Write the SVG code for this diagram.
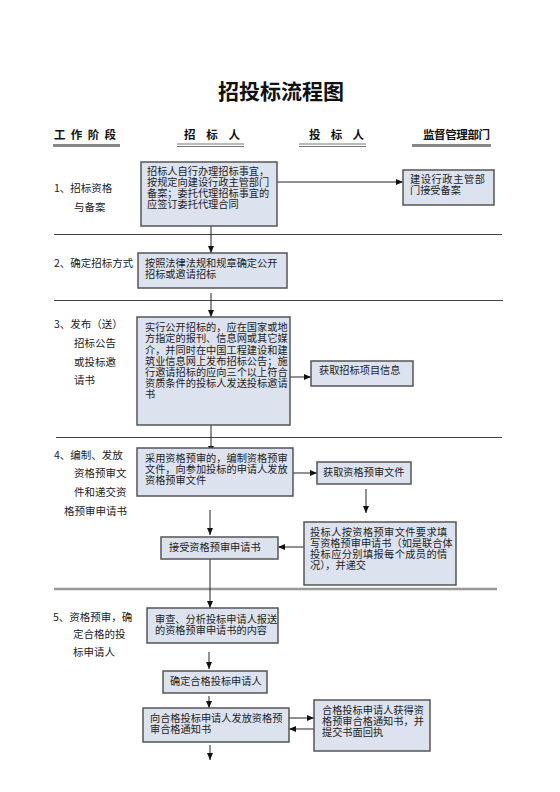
<svg xmlns="http://www.w3.org/2000/svg" width="560" height="792" viewBox="0 0 560 792">
<style>
  text { font-family: "Noto Sans CJK SC", "Noto Sans", sans-serif; fill: #222; }
  .title { font-size: 21px; font-weight: bold; fill: #111; }
  .hdr { font-size: 11.5px; font-weight: bold; fill: #111; }
  .lbl { font-size: 10.5px; }
  .t { font-size: 10.2px; }
  .box { fill: #dce3ef; stroke: #555; stroke-width: 1.5; }
  .sep { stroke: #444; stroke-width: 1; }
  .sep2 { stroke: #999; stroke-width: 2.5; }
  .bar { fill: #888; }
  .dbl { stroke: #777; stroke-width: 1; }
  .c { stroke: #222; stroke-width: 1; fill: none; marker-end: url(#ah); }
  .cl { stroke: #222; stroke-width: 1; fill: none; }
</style>
<defs>
  <marker id="ah" markerUnits="userSpaceOnUse" markerWidth="8" markerHeight="7" refX="7" refY="3" orient="auto">
    <path d="M0,0 L7,3 L0,6 z" fill="#111"/>
  </marker>
</defs>
<rect x="0" y="0" width="560" height="792" fill="#fff"/>

<g id="title"><text class="title" x="281" y="99" text-anchor="middle">招投标流程图</text></g>

<g id="header">
  <text class="hdr" x="54" y="139" textLength="62" lengthAdjust="spacing">工 作 阶 段</text>
  <rect class="bar" x="53" y="144" width="67" height="3"/>
  <text class="hdr" x="184" y="139" textLength="56" lengthAdjust="spacing">招 标 人</text>
  <line class="dbl" x1="177" y1="144" x2="244" y2="144"/>
  <line class="dbl" x1="177" y1="146.5" x2="244" y2="146.5"/>
  <text class="hdr" x="309" y="139" textLength="55" lengthAdjust="spacing">投 标 人</text>
  <line class="dbl" x1="299" y1="144" x2="366" y2="144"/>
  <line class="dbl" x1="299" y1="146.5" x2="366" y2="146.5"/>
  <text class="hdr" x="423" y="139" textLength="67" lengthAdjust="spacing">监督管理部门</text>
  <rect class="bar" x="412" y="144" width="79" height="3"/>
</g>

<g id="separators">
  <line class="sep" x1="54" y1="234.5" x2="502" y2="234.5"/>
  <line class="sep" x1="54" y1="300.5" x2="503" y2="300.5"/>
  <line class="sep" x1="56" y1="437.5" x2="502" y2="437.5"/>
  <line class="sep2" x1="54" y1="589" x2="497" y2="589"/>
</g>

<g id="stage-labels">
  <text class="lbl" x="54" y="192">1、招标资格</text>
  <text class="lbl" x="74" y="211">与备案</text>
  <text class="lbl" x="54" y="267">2、确定招标方式</text>
  <text class="lbl" x="54" y="328">3、发布（送）</text>
  <text class="lbl" x="74" y="347">招标公告</text>
  <text class="lbl" x="74" y="366">或投标邀</text>
  <text class="lbl" x="74" y="384">请书</text>
  <text class="lbl" x="54" y="459">4、编制、发放</text>
  <text class="lbl" x="74" y="477">资格预审文</text>
  <text class="lbl" x="74" y="496">件和递交资</text>
  <text class="lbl" x="64" y="515">格预审申请书</text>
  <text class="lbl" x="53" y="621">5、资格预审，确</text>
  <text class="lbl" x="73" y="638">定合格的投</text>
  <text class="lbl" x="73" y="656">标申请人</text>
</g>

<g id="connectors">
  <line class="c" x1="277" y1="182" x2="403" y2="182"/>
  <line class="c" x1="211" y1="226" x2="211" y2="253"/>
  <line class="c" x1="211" y1="293" x2="211" y2="317"/>
  <line class="c" x1="290" y1="377" x2="311" y2="377"/>
  <line class="c" x1="211" y1="425" x2="211" y2="453"/>
  <line class="c" x1="293" y1="473" x2="317" y2="473"/>
  <line class="c" x1="366" y1="489" x2="366" y2="513"/>
  <line class="c" x1="210" y1="510" x2="210" y2="535"/>
  <line class="c" x1="304" y1="547" x2="278" y2="547"/>
  <line class="c" x1="210" y1="559" x2="210" y2="608"/>
  <line class="c" x1="209" y1="652" x2="209" y2="669"/>
  <line class="c" x1="209" y1="696" x2="209" y2="708"/>
  <line class="c" x1="289" y1="718" x2="314" y2="718"/>
  <line class="c" x1="314" y1="729" x2="289" y2="729"/>
  <line class="c" x1="210" y1="745" x2="210" y2="760"/>
</g>

<g id="n-a1">
  <rect class="box" x="141" y="162" width="136" height="64"/>
  <text class="t" x="147" y="175">招标人自行办理招标事宜，</text>
  <text class="t" x="147" y="186">按规定向建设行政主管部门</text>
  <text class="t" x="147" y="197">备案；委托代理招标事宜的</text>
  <text class="t" x="147" y="208">应签订委托代理合同</text>
</g>
<g id="n-b1">
  <rect class="box" x="403" y="170" width="91" height="35"/>
  <text class="t" x="410" y="183" letter-spacing="0.6">建设行政主管部</text>
  <text class="t" x="410" y="194">门接受备案</text>
</g>
<g id="n-a2">
  <rect class="box" x="138" y="253" width="149" height="35"/>
  <text class="t" x="145" y="267">按照法律法规和规章确定公开</text>
  <text class="t" x="145" y="278">招标或邀请招标</text>
</g>
<g id="n-a3">
  <rect class="box" x="137" y="317" width="153" height="108"/>
  <text class="t" x="145" y="331">实行公开招标的，应在国家或地</text>
  <text class="t" x="145" y="342">方指定的报刊、信息网或其它媒</text>
  <text class="t" x="145" y="353.5">介，并同时在中国工程建设和建</text>
  <text class="t" x="145" y="365">筑业信息网上发布招标公告；施</text>
  <text class="t" x="145" y="376">行邀请招标的应向三个以上符合</text>
  <text class="t" x="145" y="387">资质条件的投标人发送投标邀请</text>
  <text class="t" x="145" y="398">书</text>
</g>
<g id="n-b3">
  <rect class="box" x="311" y="361" width="102" height="25"/>
  <text class="t" x="319" y="374">获取招标项目信息</text>
</g>
<g id="n-a4">
  <rect class="box" x="137" y="448" width="156" height="48"/>
  <text class="t" x="145" y="462">采用资格预审的，编制资格预审</text>
  <text class="t" x="145" y="473">文件，向参加投标的申请人发放</text>
  <text class="t" x="145" y="484">资格预审文件</text>
</g>
<g id="n-b4">
  <rect class="box" x="317" y="462" width="94" height="22"/>
  <text class="t" x="323" y="476">获取资格预审文件</text>
</g>
<g id="n-c4">
  <rect class="box" x="304" y="522" width="152" height="63"/>
  <text class="t" x="310" y="536" letter-spacing="0.4">投标人按资格预审文件要求填</text>
  <text class="t" x="310" y="547">写资格预审申请书（如是联合体</text>
  <text class="t" x="310" y="558" letter-spacing="0.4">投标应分别填报每个成员的情</text>
  <text class="t" x="310" y="569">况），并递交</text>
</g>
<g id="n-d4">
  <rect class="box" x="161" y="537" width="117" height="22"/>
  <text class="t" x="169" y="551">接受资格预审申请书</text>
</g>
<g id="n-a5">
  <rect class="box" x="147" y="608" width="131" height="35"/>
  <text class="t" x="155" y="623">审查、分析投标申请人报送</text>
  <text class="t" x="155" y="634">的资格预审申请书的内容</text>
</g>
<g id="n-b5">
  <rect class="box" x="163" y="671" width="104" height="22"/>
  <text class="t" x="170" y="685">确定合格投标申请人</text>
</g>
<g id="n-c5">
  <rect class="box" x="143" y="708" width="146" height="34"/>
  <text class="t" x="150" y="722">向合格投标申请人发放资格预</text>
  <text class="t" x="150" y="733">审合格通知书</text>
</g>
<g id="n-d5">
  <rect class="box" x="314" y="700" width="116" height="51"/>
  <text class="t" x="322" y="714">合格投标申请人获得资</text>
  <text class="t" x="322" y="725">格预审合格通知书，并</text>
  <text class="t" x="322" y="736">提交书面回执</text>
</g>
</svg>
